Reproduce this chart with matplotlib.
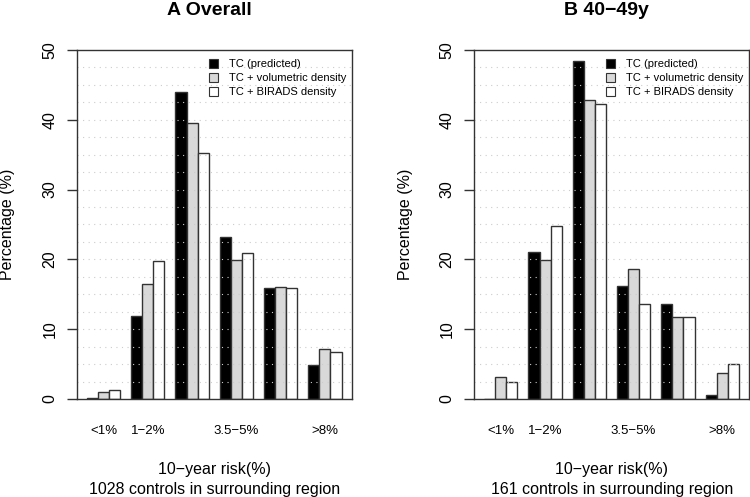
import numpy as np
import matplotlib.pyplot as plt
from matplotlib.patches import Patch

plt.rcParams['font.family'] = ['Liberation Sans', 'DejaVu Sans']

# risk categories (two labels are hidden in the original because they overlap)
categories = ['<1%', '1\u22122%', '2\u22123.5%', '3.5\u22125%', '5\u22128%', '>8%']
shown_labels = ['<1%', '1\u22122%', '', '3.5\u22125%', '', '>8%']
series_names = ['TC (predicted)', 'TC + volumetric density', 'TC + BIRADS density']

# A overall, 1028 controls
overall_tc = [0.2, 11.9, 44.0, 23.2, 15.95, 4.8]
overall_vol = [1.05, 16.5, 39.5, 19.85, 16.1, 7.1]
overall_birads = [1.25, 19.7, 35.3, 20.9, 15.95, 6.8]

# B 40-49y, 161 controls
age40_tc = [0.0, 21.1, 48.45, 16.15, 13.65, 0.62]
age40_vol = [3.1, 19.9, 42.9, 18.6, 11.8, 3.7]
age40_birads = [2.5, 24.85, 42.25, 13.65, 11.8, 4.95]

fills = ['black', '#d9d9d9', 'white']
edge = '#333333'


def panel(ax, series, title, xlab):
    n = len(categories)
    for j, vals in enumerate(series):
        # R barplot beside=TRUE layout: space=c(0,1)
        lefts = [1 + 4 * g + j for g in range(n)]
        ax.bar(lefts, vals, width=1, align='edge', color=fills[j],
               edgecolor=edge, linewidth=1.0, zorder=2)
    ax.set_xlim(0.08, 24.95)
    ax.set_ylim(0, 50)
    # dotted grid drawn over bars
    for yv in np.arange(2.5, 50, 2.5):
        ax.axhline(yv, color='#cccccc', linestyle=(0, (1, 4)),
                   linewidth=0.8, zorder=3)
    for s in ax.spines.values():
        s.set_color(edge)
        s.set_linewidth(1.0)
        s.set_zorder(4)

    ax.set_xticks([2.5 + 4 * g for g in range(n)])
    ax.set_xticklabels(shown_labels, fontsize=9.5)
    ax.tick_params(axis='x', length=0, pad=19)
    ax.set_yticks([0, 10, 20, 30, 40, 50])
    ax.set_yticklabels(['0', '10', '20', '30', '40', '50'], rotation=90,
                       va='center', fontsize=11.5)
    ax.tick_params(axis='y', direction='out', length=7, width=1.0,
                   color=edge, pad=7)

    ax.set_ylabel('Percentage (%)', fontsize=11.5, va='center')
    ax.yaxis.set_label_coords(-0.25, 0.5)
    ax.set_xlabel(xlab, fontsize=11.5, linespacing=1.4, va='top')
    ax.xaxis.set_label_coords(0.5, -0.18)
    ax.set_title(title, fontsize=14, fontweight='bold', pad=25, x=0.482)

    handles = [Patch(facecolor=fills[j], edgecolor=edge, linewidth=0.8)
               for j in range(3)]
    ax.legend(handles, series_names, loc='upper right', frameon=False,
              fontsize=8.0, handlelength=0.8, handleheight=0.8,
              handletextpad=1.0, labelspacing=0.35,
              bbox_to_anchor=(1.0, 0.99), borderaxespad=0.1)


fig = plt.figure(figsize=(7.5, 4.97), dpi=100)
ax1 = fig.add_axes([0.1023, 0.1972, 0.3671, 0.7022])
ax2 = fig.add_axes([0.632, 0.1972, 0.3671, 0.7022])

panel(ax1, [overall_tc, overall_vol, overall_birads], 'A Overall',
      '10\u2212year risk(%)\n1028 controls in surrounding region')
panel(ax2, [age40_tc, age40_vol, age40_birads], 'B 40\u221249y',
      '10\u2212year risk(%)\n161 controls in surrounding region')

fig.savefig('out.png', dpi=100)
